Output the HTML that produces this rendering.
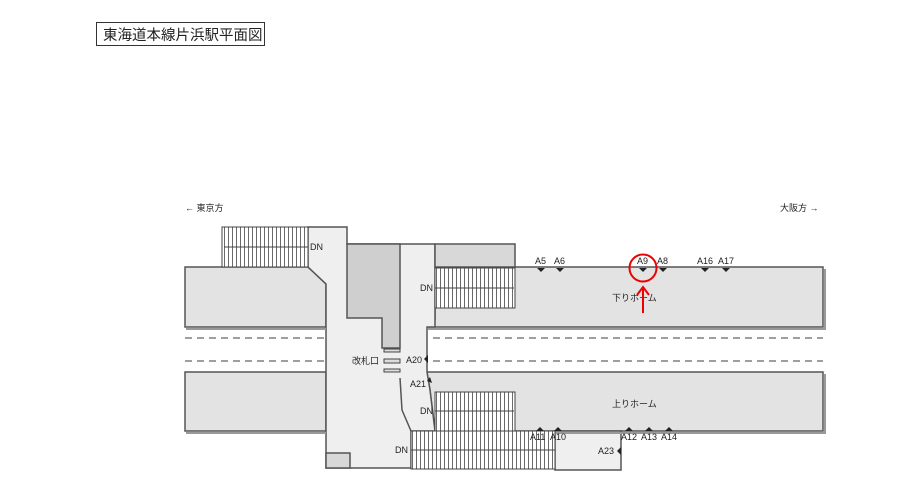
<!DOCTYPE html>
<html><head><meta charset="utf-8"><style>
body{margin:0;background:#fff;width:919px;height:491px;overflow:hidden}
svg{display:block}
text{font-family:"Liberation Sans","Noto Sans CJK JP",sans-serif;fill:#222}
</style></head><body>
<svg width="919" height="491" viewBox="0 0 919 491" xmlns="http://www.w3.org/2000/svg">
<defs>
<pattern id="st" width="4" height="10" patternUnits="userSpaceOnUse"><rect width="4" height="10" fill="#fff"/><line x1="0.5" y1="0" x2="0.5" y2="10" stroke="#444" stroke-width="0.8"/></pattern>
</defs>
<rect x="96.5" y="22.5" width="168" height="23" fill="#fff" stroke="#333"/>
<text x="103" y="40" font-size="14.5">東海道本線片浜駅平面図</text>
<text x="185" y="211" font-size="9">←  東京方</text>
<text x="780" y="211" font-size="9">大阪方  →</text>

<g stroke="#555" stroke-width="1.5">
<!-- platforms -->
<path d="M185 267 H308 L326 284 V327 H185 Z" fill="#e3e3e3"/>
<rect x="185" y="372" width="141" height="59" fill="#e3e3e3"/>
<path d="M435 267 H823 V327 H427 V319 H435 Z" fill="#e3e3e3"/>
<path d="M427 372 H823 V431 H435 L430 390 Z" fill="#e3e3e3"/>
<!-- concourse -->
<path d="M308 227 H347 V244 H435 V327 H427 V372 L430 390 L435 431 H411 V468 H326 V284 L308 267 Z" fill="#efefef"/>
<path d="M400 378 L402 410 L411 431" fill="none"/>
<path d="M347 244 H400 V348 H382 V318 H347 Z" fill="#cfcfcf"/>
<rect x="435" y="244" width="80" height="23" fill="#d8d8d8"/>
<rect x="326" y="453" width="24" height="15" fill="#d8d8d8"/>
<rect x="555" y="431" width="66" height="39" fill="#efefef"/>
</g>
<!-- shadows -->
<g stroke="#999" stroke-width="2" fill="none">
<path d="M186 329 H326"/><path d="M186 433 H326"/><path d="M428 329 H825 V269"/><path d="M436 433 H825 V374"/>
</g>
<!-- stairs -->
<g stroke="#444" stroke-width="1">
<rect x="222" y="227" width="86" height="40" fill="url(#st)"/>
<rect x="435" y="268" width="80" height="40" fill="url(#st)"/>
<rect x="435" y="392" width="80" height="39" fill="url(#st)"/>
<rect x="411" y="431" width="144" height="38" fill="url(#st)"/>
<line x1="224" y1="247" x2="308" y2="247"/>
<line x1="435" y1="288" x2="514" y2="288"/>
<line x1="435" y1="411" x2="514" y2="411"/>
<line x1="411" y1="450" x2="555" y2="450"/>
</g>
<g font-size="9">
<text x="310" y="250">DN</text>
<text x="420" y="291">DN</text>
<text x="420" y="414">DN</text>
<text x="395" y="453">DN</text>
</g>
<!-- tracks -->
<g stroke="#666" stroke-width="1.2" stroke-dasharray="7,5">
<line x1="185" y1="338" x2="326" y2="338"/><line x1="185" y1="361" x2="326" y2="361"/>
<line x1="433" y1="338" x2="823" y2="338"/><line x1="433" y1="361" x2="823" y2="361"/>
</g>
<!-- gates -->
<g fill="#ddd" stroke="#444" stroke-width="1">
<rect x="384" y="349" width="16" height="3"/><rect x="384" y="359" width="16" height="4"/><rect x="384" y="369" width="16" height="3"/>
</g>
<text x="352" y="364" font-size="9">改札口</text>
<text x="406" y="363" font-size="9">A20</text>
<path d="M424 359 L428 355 V363 Z" fill="#222"/>
<text x="410" y="387" font-size="9">A21</text>
<path d="M427 381 L430 377 L432 383 Z" fill="#222"/>
<!-- markers upper -->
<g font-size="9">
<text x="535" y="264">A5</text><text x="554" y="264">A6</text><text x="637" y="264">A9</text><text x="657" y="264">A8</text><text x="697" y="264">A16</text><text x="718" y="264">A17</text>
<text x="530" y="440">A11</text><text x="550" y="440">A10</text><text x="621" y="440">A12</text><text x="641" y="440">A13</text><text x="661" y="440">A14</text>
<text x="598" y="454">A23</text>
<text x="612" y="301">下りホーム</text>
<text x="612" y="407">上りホーム</text>
</g>
<g fill="#222">
<path d="M537 268 h8 l-4 4 Z"/><path d="M556 268 h8 l-4 4 Z"/><path d="M639 268 h8 l-4 4 Z"/><path d="M659 268 h8 l-4 4 Z"/><path d="M701 268 h8 l-4 4 Z"/><path d="M722 268 h8 l-4 4 Z"/>
<path d="M536 431 h8 l-4 -4 Z"/><path d="M554 431 h8 l-4 -4 Z"/><path d="M625 431 h8 l-4 -4 Z"/><path d="M645 431 h8 l-4 -4 Z"/><path d="M665 431 h8 l-4 -4 Z"/>
<path d="M617 451 l4 -4 v8 Z"/>
</g>
<!-- highlight -->
<circle cx="643" cy="268" r="13.5" fill="none" stroke="#e00" stroke-width="2"/>
<line x1="643" y1="313" x2="643" y2="289" stroke="#e00" stroke-width="2"/>
<path d="M637 295 L643 287 L649 295" fill="none" stroke="#e00" stroke-width="2"/>
</svg>
</body></html>
